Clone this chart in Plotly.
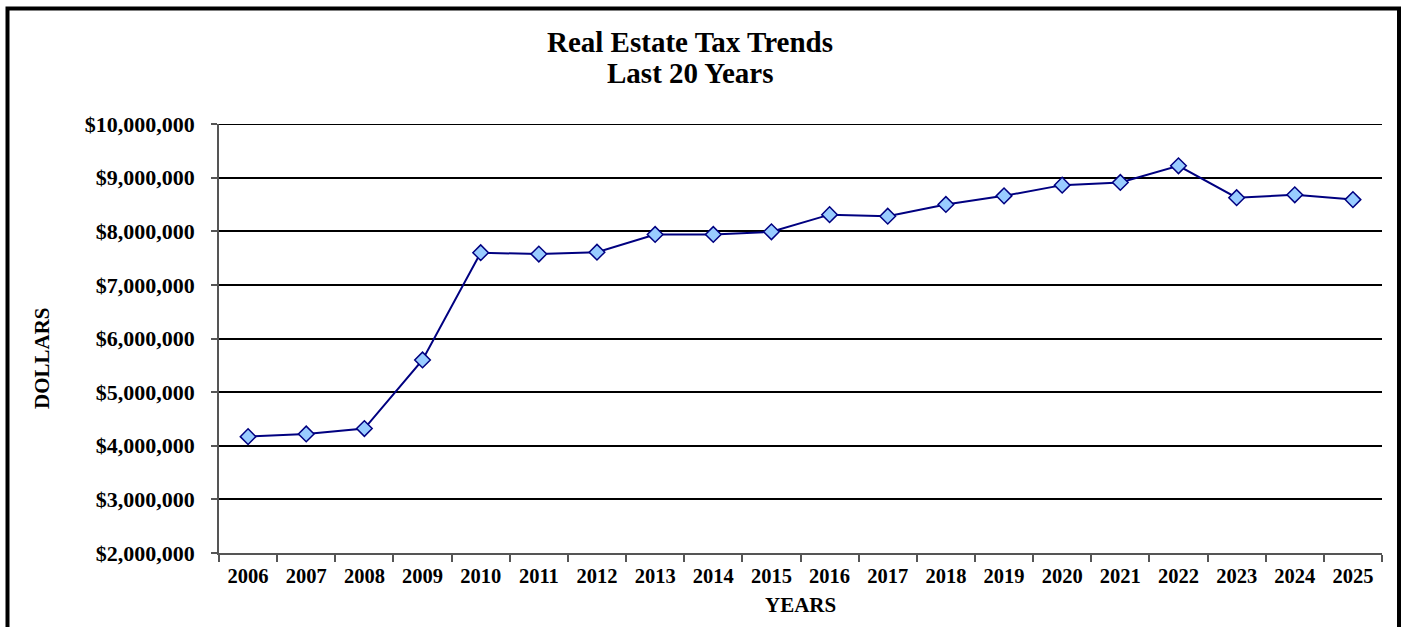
import plotly.graph_objects as go

# Annual real estate tax collections
years = ["2006", "2007", "2008", "2009", "2010", "2011", "2012", "2013", "2014", "2015",
         "2016", "2017", "2018", "2019", "2020", "2021", "2022", "2023", "2024", "2025"]
tax_dollars = [4170000, 4220000, 4320000, 5600000, 7600000, 7575000, 7610000, 7940000,
               7940000, 7990000, 8310000, 8280000, 8500000, 8660000, 8860000, 8910000,
               9220000, 8625000, 8680000, 8590000]
y_ticks = [2000000, 3000000, 4000000, 5000000, 6000000, 7000000, 8000000, 9000000, 10000000]
y_tick_labels = ["$2,000,000", "$3,000,000", "$4,000,000", "$5,000,000", "$6,000,000",
                 "$7,000,000", "$8,000,000", "$9,000,000", "$10,000,000"]
title_lines = ["Real Estate Tax Trends", "Last 20 Years"]

W, H = 1405, 627
ML, MR, MT, MB = 219, 23, 124, 74
PW = W - ML - MR
PH = H - MT - MB

FONT = "Liberation Serif"


def px_x(x):
    return (x - ML) / PW


def px_y(y):
    return (H - MB - y) / PH


fig = go.Figure()
fig.add_trace(go.Scatter(
    x=years, y=tax_dollars, mode="lines+markers",
    line=dict(color="#000080", width=2),
    marker=dict(symbol="diamond", size=12, color="#99CCFF",
                line=dict(color="#000080", width=1.5)),
    showlegend=False, hoverinfo="x+y",
))

title_font = dict(family=FONT, size=29, color="black")
label_font = dict(family=FONT, size=21, color="black")

fig.update_layout(
    width=W, height=H,
    margin=dict(l=ML, r=MR, t=MT, b=MB, pad=0),
    paper_bgcolor="white", plot_bgcolor="white",
    font=dict(family=FONT, color="black"),
    xaxis=dict(
        type="category", range=[-0.5, 19.5],
        showgrid=False, showline=True, linecolor="#555555", linewidth=1.5,
        ticks="outside", tickson="boundaries", ticklen=7, tickcolor="#555555", tickwidth=1.5,
        tickfont=dict(family=FONT, size=20.5, color="black"),
        tickprefix="<b>", ticksuffix="</b>",
        ticklabelstandoff=4,
    ),
    yaxis=dict(
        range=[y_ticks[0], y_ticks[-1]],
        tickvals=y_ticks, ticktext=["<b>%s</b>" % t for t in y_tick_labels],
        showgrid=True, gridcolor="black", gridwidth=2,
        showline=True, linecolor="#555555", linewidth=1.5,
        ticks="outside", ticklen=6, tickcolor="#555555", tickwidth=1.5,
        tickfont=dict(family=FONT, size=22, color="black"),
        ticklabelstandoff=12,
        zeroline=False,
    ),
    annotations=[
        # two-line chart heading
        dict(text="<b>%s</b>" % title_lines[0], showarrow=False,
             xref="paper", yref="paper", x=px_x(690), y=px_y(42),
             xanchor="center", yanchor="middle", font=title_font),
        dict(text="<b>%s</b>" % title_lines[1], showarrow=False,
             xref="paper", yref="paper", x=px_x(690), y=px_y(73),
             xanchor="center", yanchor="middle", font=title_font),
        # axis titles
        dict(text="<b>DOLLARS</b>", textangle=-90, showarrow=False,
             xref="paper", yref="paper", x=px_x(42), y=px_y(358),
             xanchor="center", yanchor="middle", font=label_font),
        dict(text="<b>YEARS</b>", showarrow=False,
             xref="paper", yref="paper", x=px_x(800), y=px_y(605),
             xanchor="center", yanchor="middle", font=label_font),
    ],
    shapes=[
        # top gridline at the upper end of the value range
        dict(type="line", xref="paper", yref="y", layer="below",
             x0=0, x1=1, y0=y_ticks[-1], y1=y_ticks[-1],
             line=dict(color="black", width=2)),
        # outer frame around the whole chart
        dict(type="rect", xref="paper", yref="paper", layer="above",
             x0=px_x(7.5), x1=px_x(1399), y0=px_y(640), y1=px_y(8.5),
             line=dict(color="black", width=4), fillcolor="rgba(0,0,0,0)"),
    ],
)

fig.write_html("out.html")
